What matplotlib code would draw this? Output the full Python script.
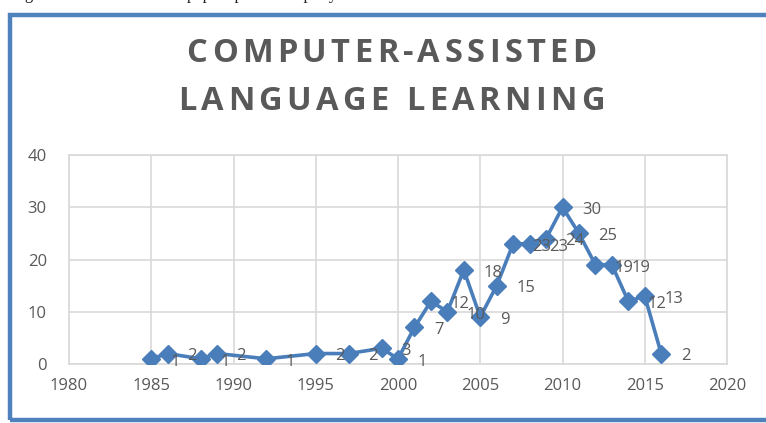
import matplotlib
matplotlib.use("Agg")
import matplotlib.pyplot as plt
from matplotlib.patches import Rectangle

# papers per year
years = [1985, 1986, 1988, 1989, 1992, 1995, 1997, 1999, 2000, 2001, 2002, 2003,
         2004, 2005, 2006, 2007, 2008, 2009, 2010, 2011, 2012, 2013, 2014, 2015, 2016]
papers = [1, 2, 1, 2, 1, 2, 2, 3, 1, 7, 12, 10,
          18, 9, 15, 23, 23, 24, 30, 25, 19, 19, 12, 13, 2]

x_ticks = [1980, 1985, 1990, 1995, 2000, 2005, 2010, 2015, 2020]
y_ticks = [0, 10, 20, 30, 40]
title_lines = ["COMPUTER-ASSISTED", "LANGUAGE LEARNING"]

blue = "#4a7ebb"
grey = "#595959"
grid = "#d9d9d9"

fig = plt.figure(figsize=(7.66, 4.23), dpi=100)
renderer = fig.canvas.get_renderer()


def spaced_text(s, xc, y, tracking, **kw):
    # lay out one character at a time so the title gets extra letter spacing
    W = fig.bbox.width
    widths = []
    for ch in s:
        t = fig.text(0, 0, ch, **kw)
        widths.append(t.get_window_extent(renderer).width)
        t.remove()
    # spaces measure as zero width, give them a sensible one
    widths = [w if w > 0 else 8 for w in widths]
    total = sum(widths) + tracking * (len(s) - 1)
    x = xc * W - total / 2
    for ch, w in zip(s, widths):
        fig.text(x / W, y, ch, ha="left", va="center", **kw)
        x += w + tracking


# caption of the page, mostly cut off at the top edge
fig.text(0.015, 1.012, "Figure 1: Total number of papers published per year",
         family="Liberation Serif", fontsize=12, color="#222222", va="center")

# chart frame
fig.patches.append(Rectangle((10 / 766, 3 / 423), 1.0, 405 / 423,
                             transform=fig.transFigure, fill=False,
                             edgecolor="#4f81bd", linewidth=3.2))

title_style = dict(family="Open Sans", weight="bold", fontsize=23.5, color=grey)
spaced_text(title_lines[0], 0.511, 0.874, 4.4, **title_style)
spaced_text(title_lines[1], 0.511, 0.760, 4.4, **title_style)

ax = fig.add_axes([69 / 766, 59 / 423, 658 / 766, 209 / 423])
ax.plot(years, papers, color=blue, linewidth=2.6, marker="D", markersize=9.5,
        markerfacecolor=blue, markeredgecolor=blue, zorder=3)

for x, y in zip(years, papers):
    ax.annotate(str(y), (x, y), xytext=(14, -2), textcoords="offset points",
                ha="left", va="center", fontsize=12, color=grey,
                family="Open Sans", zorder=4)

ax.set_xlim(1980, 2020)
ax.set_ylim(0, 40)
ax.set_xticks(x_ticks)
ax.set_yticks(y_ticks)
ax.grid(True, color=grid, linewidth=1.2)
ax.set_axisbelow(True)
for side in ax.spines.values():
    side.set_color(grid)
    side.set_linewidth(1.2)
ax.tick_params(length=0, labelsize=12, labelcolor=grey, pad=10)
ax.tick_params(axis="y", pad=16)
for lab in ax.get_xticklabels() + ax.get_yticklabels():
    lab.set_family("Open Sans")

fig.savefig("out.png", dpi=100)
